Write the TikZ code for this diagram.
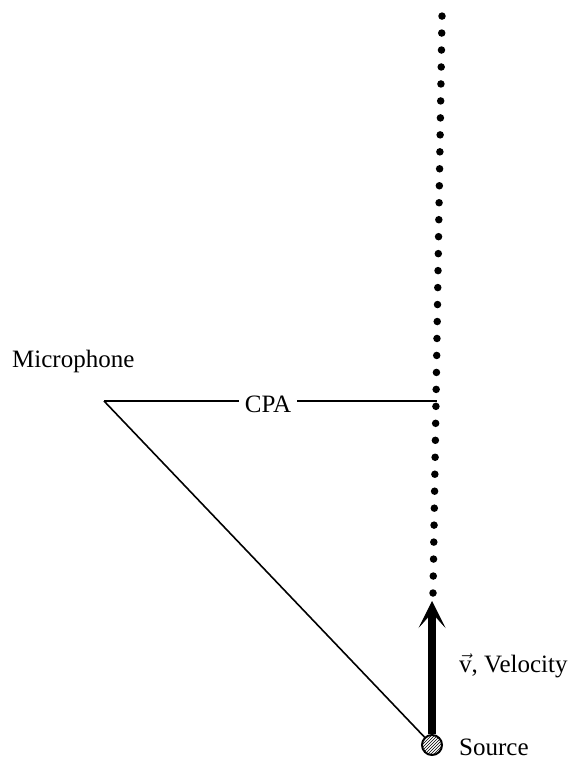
\documentclass[tikz,border=0pt]{standalone}
\usepackage{amsmath}
\usepackage{fontspec}
\setmainfont{Liberation Serif}
\usetikzlibrary{arrows.meta,patterns}
\tikzset{
	lbl/.style={anchor=base west, inner sep=0pt, font=\fontsize{25}{30}\selectfont},
	wire/.style={line width=1.6pt},
}
\begin{document}
\begin{tikzpicture}[x=1pt, y=-1pt]
	\useasboundingbox (0, 0) rectangle (576, 762);
	% track of the source
	\coordinate (bot) at (433, 593);
	\coordinate (top) at (442, 16);
	\draw[line width=7.5pt, line cap=round, dash pattern=on 0pt off 16.97pt] (bot) -- (top);
	% source and microphone
	\node[draw, circle, minimum size=20pt, inner sep=0pt, line width=2pt, pattern=north east lines] (src) at (432, 745) {};
	\coordinate (mic) at (104, 401);
	\coordinate (cpa) at (437, 401);
	\coordinate (tip) at (432, 601);
	\node[font=\fontsize{25}{30}\selectfont, inner xsep=6pt, inner ysep=0pt] (cpalbl) at (268, 404) {CPA};
	\draw[wire] (mic) -- (cpalbl.west |- mic);
	\draw[wire] (cpalbl.east |- cpa) -- (cpa);
	\draw[wire] (mic) -- (src);
	\draw[line width=8pt, -{Stealth[length=27pt, width=27pt, inset=15pt, line width=0.5pt]}] (src.north) -- (tip);
	\node[lbl] (miclbl) at (12, 367) {Microphone};
	\node[lbl] (vlbl) at (459, 672) {$\vec{\text{v}}$, Velocity};
	\node[lbl] (srclbl) at (459, 755) {Source};
\end{tikzpicture}
\end{document}
